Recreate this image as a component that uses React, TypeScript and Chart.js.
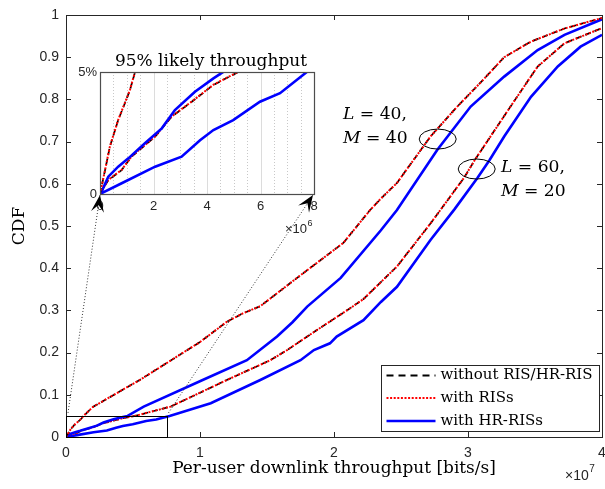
import React, { useEffect, useRef } from "react";
import { Chart, registerables } from "chart.js";

Chart.register(...registerables);

// ---------------- ticks & labels ----------------
// throughput stored in Mbit/s; main axis shows ×10^7 bits/s, inset shows ×10^6 bits/s
const mainXTicks = [0, 10, 20, 30, 40];
const mainXTickLabels = ["0", "1", "2", "3", "4"];
const mainYTicks = [0, 0.1, 0.2, 0.3, 0.4, 0.5, 0.6, 0.7, 0.8, 0.9, 1];
const mainYTickLabels = ["0", "0.1", "0.2", "0.3", "0.4", "0.5", "0.6", "0.7", "0.8", "0.9", "1"];
const insetXTicks = [0, 2, 4, 6, 8];
const insetXTickLabels = ["0", "2", "4", "6", "8"];
const insetYTicks = [0, 0.05];
const insetYTickLabels = ["0", "5%"];
const insetMajorGrid = [2, 4, 6];
const insetMinorGrid = [0.5, 1, 1.5, 2.5, 3, 3.5, 4.5, 5, 5.5, 6.5, 7, 7.5];
const insetRangeX = [0, 8];
const insetRangeY = [0, 0.05];
const zoomBoxX = [0, 7.5];
const zoomBoxY = [0, 0.05];

const xTitle = "Per-user downlink throughput [bits/s]";
const yTitle = "CDF";
const insetTitle = "95% likely throughput";
const legendLabels = ["without RIS/HR-RIS", "with RISs", "with HR-RISs"];
const groupLabels = [
  ["L", " = 40,", "M", " = 40"],
  ["L", " = 60,", "M", " = 20"],
];
// ellipse centres in data units (Mbit/s, CDF)
const ellipseX = [27.74, 30.65];
const ellipseY = [0.706, 0.635];

// ---------------- data (Mbit/s, CDF) ----------------
// L = 40, M = 40
const l40NoRisX = [0, 0.19, 0.37, 0.68, 0.93, 1.12, 1.31, 2.0, 3.3, 4.56, 5.5, 7.8, 10.0, 12.0, 13.2, 14.5, 17.2, 20.7, 22.7, 23.5, 24.7, 27.2, 29.2, 31.0, 32.7, 34.7, 37.2, 40.0];
const l40NoRisY = [0, 0.0098, 0.0194, 0.0303, 0.0372, 0.0426, 0.05, 0.071, 0.095, 0.118, 0.135, 0.181, 0.225, 0.273, 0.293, 0.31, 0.376, 0.46, 0.538, 0.565, 0.602, 0.712, 0.783, 0.842, 0.9, 0.937, 0.968, 0.993];
const l40RisX = [0, 0.19, 0.37, 0.68, 0.93, 1.12, 1.31, 2.0, 3.3, 4.56, 5.5, 7.8, 10.0, 12.0, 13.2, 14.5, 17.2, 20.7, 22.7, 23.5, 24.7, 27.2, 29.2, 31.0, 32.7, 34.7, 37.2, 40.0];
const l40RisY = [0, 0.0099, 0.0195, 0.0304, 0.0373, 0.0427, 0.0501, 0.071, 0.095, 0.118, 0.135, 0.181, 0.225, 0.273, 0.293, 0.31, 0.376, 0.46, 0.538, 0.565, 0.602, 0.712, 0.783, 0.842, 0.9, 0.937, 0.968, 0.993];
const l40HrX = [0, 0.06, 0.31, 0.68, 1.06, 1.68, 2.31, 2.8, 3.55, 4.24, 4.6, 5.8, 10.2, 13.5, 15.75, 16.9, 18.0, 20.5, 23.5, 24.7, 27.7, 30.2, 32.7, 35.2, 37.2, 40.0];
const l40HrY = [0, 0.001, 0.0071, 0.0112, 0.0146, 0.0208, 0.0269, 0.0344, 0.0419, 0.0474, 0.05, 0.072, 0.135, 0.182, 0.238, 0.272, 0.309, 0.377, 0.49, 0.538, 0.68, 0.783, 0.854, 0.917, 0.953, 0.99];
// L = 60, M = 20
const l60NoRisX = [0, 0.31, 0.81, 1.18, 2.06, 2.68, 3.43, 4.24, 5.17, 7.8, 12.0, 15.25, 16.5, 18.75, 21.2, 22.2, 24.7, 27.2, 29.7, 30.5, 33.0, 35.2, 37.2, 40.0];
const l60NoRisY = [0, 0.0057, 0.0098, 0.0153, 0.0235, 0.0317, 0.0378, 0.0447, 0.05, 0.072, 0.135, 0.182, 0.206, 0.254, 0.305, 0.327, 0.404, 0.506, 0.614, 0.656, 0.775, 0.878, 0.933, 0.969];
const l60RisX = [0, 0.31, 0.81, 1.18, 2.06, 2.68, 3.43, 4.24, 5.17, 7.8, 12.0, 15.25, 16.5, 18.75, 21.2, 22.2, 24.7, 27.2, 29.7, 30.5, 33.0, 35.2, 37.2, 40.0];
const l60RisY = [0, 0.0058, 0.0099, 0.0154, 0.0236, 0.0318, 0.0379, 0.0448, 0.0501, 0.072, 0.135, 0.182, 0.206, 0.254, 0.305, 0.327, 0.404, 0.506, 0.614, 0.656, 0.775, 0.878, 0.933, 0.969];
const l60HrX = [0, 0.81, 2.06, 3.05, 3.74, 4.24, 4.98, 5.98, 6.73, 7.73, 10.8, 14.5, 17.5, 18.5, 19.7, 20.2, 22.2, 23.5, 24.7, 27.2, 29.0, 30.7, 31.6, 32.7, 34.7, 36.7, 38.4, 40.0];
const l60HrY = [0, 0.0044, 0.0112, 0.0153, 0.022, 0.0262, 0.0303, 0.0378, 0.0413, 0.05, 0.08, 0.135, 0.182, 0.206, 0.222, 0.238, 0.277, 0.32, 0.356, 0.467, 0.54, 0.614, 0.656, 0.712, 0.806, 0.878, 0.925, 0.953];

// ---------------- styles ----------------
const TICK_FONT = "'Liberation Sans', Arial, sans-serif";
const SERIF = "'DejaVu Serif', serif";
const AX = "#262626";
const BLACK = "#000000";
const RED = "#ff0000";
const BLUE = "#0000ff";

const pts = (xs: number[], ys: number[]) => xs.map((x, i) => ({ x, y: ys[i] }));

function makeDatasets() {
  const red = { borderColor: RED, borderWidth: 2, borderDash: [2, 1.6] };
  const blk = { borderColor: BLACK, borderWidth: 1.7, borderDash: [6, 4] };
  const blu = { borderColor: BLUE, borderWidth: 2.6, borderDash: [] as number[] };
  const base = { pointRadius: 0, tension: 0, fill: false, borderCapStyle: "butt" as const };
  return [
    { ...base, ...red, data: pts(l40RisX, l40RisY) },
    { ...base, ...blk, data: pts(l40NoRisX, l40NoRisY) },
    { ...base, ...blu, data: pts(l40HrX, l40HrY) },
    { ...base, ...red, data: pts(l60RisX, l60RisY) },
    { ...base, ...blk, data: pts(l60NoRisX, l60NoRisY) },
    { ...base, ...blu, data: pts(l60HrX, l60HrY) },
  ];
}

function fitSize(ctx: CanvasRenderingContext2D, text: string, family: string, style: string, width: number) {
  ctx.font = `${style} 100px ${family}`;
  return (100 * width) / ctx.measureText(text).width;
}

function arrowHead(ctx: CanvasRenderingContext2D, tx: number, ty: number, fx: number, fy: number) {
  const dx = tx - fx, dy = ty - fy;
  const len = Math.hypot(dx, dy);
  const ux = dx / len, uy = dy / len;
  const nx = -uy, ny = ux;
  const L = 17, W = 6.5, N = 10;
  ctx.beginPath();
  ctx.moveTo(tx, ty);
  ctx.lineTo(tx - ux * L + nx * W, ty - uy * L + ny * W);
  ctx.lineTo(tx - ux * N, ty - uy * N);
  ctx.lineTo(tx - ux * L - nx * W, ty - uy * L - ny * W);
  ctx.closePath();
  ctx.fill();
}

function drawExponent(ctx: CanvasRenderingContext2D, exp: string, x0: number, base: number, size: number) {
  ctx.fillStyle = AX;
  ctx.textAlign = "left";
  ctx.textBaseline = "alphabetic";
  ctx.font = `${size}px ${TICK_FONT}`;
  ctx.fillText("\u00d710", x0, base);
  const ew = ctx.measureText("\u00d710").width;
  ctx.font = `${Math.round(size * 0.72)}px ${TICK_FONT}`;
  ctx.fillText(exp, x0 + ew + 0.5, base - size * 0.55);
}

const mainPlugin = {
  id: "mainDecor",
  afterDraw(chart: any) {
    const { ctx, chartArea: ca, scales } = chart;
    const x = scales.x, y = scales.y;
    ctx.save();
    // axes box
    ctx.strokeStyle = AX;
    ctx.lineWidth = 1;
    ctx.strokeRect(Math.round(ca.left) + 0.5, Math.round(ca.top) + 0.5, Math.round(ca.right - ca.left), Math.round(ca.bottom - ca.top));
    // inward ticks
    ctx.beginPath();
    mainXTicks.forEach((v) => {
      const px = Math.round(x.getPixelForValue(v)) + 0.5;
      ctx.moveTo(px, ca.bottom); ctx.lineTo(px, ca.bottom - 5);
      ctx.moveTo(px, ca.top); ctx.lineTo(px, ca.top + 5);
    });
    mainYTicks.forEach((v) => {
      const py = Math.round(y.getPixelForValue(v)) + 0.5;
      ctx.moveTo(ca.left, py); ctx.lineTo(ca.left + 5, py);
      ctx.moveTo(ca.right, py); ctx.lineTo(ca.right - 5, py);
    });
    ctx.stroke();

    // zoom rectangle
    ctx.strokeStyle = "#000";
    const rx0 = x.getPixelForValue(zoomBoxX[0]), rx1 = x.getPixelForValue(zoomBoxX[1]);
    const ry0 = y.getPixelForValue(zoomBoxY[0]), ry1 = y.getPixelForValue(zoomBoxY[1]);
    ctx.strokeRect(Math.round(rx0) + 0.5, Math.round(ry1) + 0.5, Math.round(rx1 - rx0), Math.round(ry0 - ry1));

    // ellipses
    ellipseX.forEach((ex, i) => {
      ctx.beginPath();
      ctx.ellipse(x.getPixelForValue(ex), y.getPixelForValue(ellipseY[i]), 18.5, 10, 0, 0, Math.PI * 2);
      ctx.stroke();
    });

    // group annotations
    ctx.fillStyle = "#000";
    ctx.textBaseline = "alphabetic";
    ctx.textAlign = "left";
    const annSize = fitSize(ctx, "L = 40,", SERIF, "", 64);
    const drawMath = (parts: string[], px: number, py: number) => {
      ctx.font = `italic ${annSize}px ${SERIF}`;
      ctx.fillText(parts[0], px, py);
      const w = ctx.measureText(parts[0]).width;
      ctx.font = `${annSize}px ${SERIF}`;
      ctx.fillText(parts[1], px + w, py);
    };
    drawMath([groupLabels[0][0], groupLabels[0][1]], 343, 119);
    drawMath([groupLabels[0][2], groupLabels[0][3]], 343, 143);
    drawMath([groupLabels[1][0], groupLabels[1][1]], 501, 172);
    drawMath([groupLabels[1][2], groupLabels[1][3]], 501, 196);

    // legend
    const lw = 218, lh = 66;
    const lx = Math.round(ca.right - 221) + 0.5, ly = Math.round(ca.bottom - 72) + 0.5;
    ctx.fillStyle = "#fff";
    ctx.fillRect(lx, ly, lw, lh);
    ctx.strokeStyle = AX;
    ctx.lineWidth = 1;
    ctx.setLineDash([]);
    ctx.strokeRect(lx, ly, lw, lh);
    const legSize = fitSize(ctx, legendLabels[0], SERIF, "", 152);
    const rows = [10, 32.5, 55.5];
    const styles = [
      { c: BLACK, w: 2.2, d: [7, 5] },
      { c: RED, w: 2, d: [2, 1.6] },
      { c: BLUE, w: 2.6, d: [] as number[] },
    ];
    rows.forEach((r, i) => {
      const yy = ly + r;
      ctx.beginPath();
      ctx.strokeStyle = styles[i].c;
      ctx.lineWidth = styles[i].w;
      ctx.setLineDash(styles[i].d);
      ctx.moveTo(lx + 5, yy);
      ctx.lineTo(lx + 54, yy);
      ctx.stroke();
      ctx.setLineDash([]);
      ctx.fillStyle = "#000";
      ctx.font = `${legSize}px ${SERIF}`;
      ctx.textBaseline = "middle";
      ctx.fillText(legendLabels[i], lx + 59, yy);
    });

    // axis titles
    ctx.fillStyle = "#000";
    ctx.textAlign = "center";
    ctx.textBaseline = "alphabetic";
    const xs = fitSize(ctx, xTitle, SERIF, "", 324);
    ctx.font = `${xs}px ${SERIF}`;
    ctx.fillText(xTitle, (ca.left + ca.right) / 2, 473);
    ctx.save();
    ctx.translate(24, (ca.top + ca.bottom) / 2);
    ctx.rotate(-Math.PI / 2);
    ctx.font = `17px ${SERIF}`;
    ctx.fillText(yTitle, 0, 0);
    ctx.restore();

    drawExponent(ctx, "7", 565, 480, 14);
    ctx.restore();
  },
};

function makeInsetPlugin(main: any) {
  return {
    id: "insetDecor",
    beforeDraw(chart: any) {
      const { ctx, chartArea: ca } = chart;
      ctx.save();
      ctx.fillStyle = "#fff";
      ctx.fillRect(ca.left, ca.top, ca.right - ca.left, ca.bottom - ca.top);
      ctx.restore();
    },
    beforeDatasetsDraw(chart: any) {
      const { ctx, chartArea: ca, scales } = chart;
      const x = scales.x;
      ctx.save();
      ctx.lineWidth = 1;
      ctx.strokeStyle = "#c8c8c8";
      ctx.setLineDash([1, 2]);
      ctx.beginPath();
      insetMinorGrid.forEach((v) => {
        const px = Math.round(x.getPixelForValue(v)) + 0.5;
        ctx.moveTo(px, ca.top); ctx.lineTo(px, ca.bottom);
      });
      ctx.stroke();
      ctx.setLineDash([]);
      ctx.strokeStyle = "#dcdcdc";
      ctx.beginPath();
      insetMajorGrid.forEach((v) => {
        const px = Math.round(x.getPixelForValue(v)) + 0.5;
        ctx.moveTo(px, ca.top); ctx.lineTo(px, ca.bottom);
      });
      ctx.stroke();
      ctx.restore();
    },
    afterDraw(chart: any) {
      const { ctx, chartArea: ca } = chart;
      ctx.save();
      // box
      ctx.strokeStyle = "#4d4d4d";
      ctx.lineWidth = 1.2;
      ctx.strokeRect(Math.round(ca.left) + 0.5, Math.round(ca.top) + 0.5, Math.round(ca.right - ca.left), Math.round(ca.bottom - ca.top));
      // title
      ctx.fillStyle = "#000";
      ctx.textAlign = "center";
      ctx.textBaseline = "alphabetic";
      const ts = fitSize(ctx, insetTitle, SERIF, "", 192);
      ctx.font = `${ts}px ${SERIF}`;
      ctx.fillText(insetTitle, (ca.left + ca.right) / 2 + 4, 66);
      // connectors from the main zoom box to the inset corners
      const mx = main.scales.x, my = main.scales.y;
      const starts = [
        [mx.getPixelForValue(zoomBoxX[0]) + 2, my.getPixelForValue(zoomBoxY[1]) - 3],
        [mx.getPixelForValue(zoomBoxX[1]) + 2, my.getPixelForValue(zoomBoxY[1]) - 3],
      ];
      const ends = [
        [ca.left, ca.bottom + 1],
        [ca.right - 1, ca.bottom + 1],
      ];
      ctx.strokeStyle = "#333";
      ctx.lineWidth = 1;
      ctx.setLineDash([1, 2]);
      starts.forEach((s, i) => {
        ctx.beginPath();
        ctx.moveTo(s[0], s[1]);
        ctx.lineTo(ends[i][0], ends[i][1]);
        ctx.stroke();
      });
      ctx.setLineDash([]);
      drawExponent(ctx, "6", 285, 233, 13);
      // arrow heads
      ctx.fillStyle = "#000";
      starts.forEach((s, i) => arrowHead(ctx, ends[i][0], ends[i][1], s[0], s[1]));
      ctx.restore();
    },
  };
}

export default function App() {
  const mainRef = useRef<HTMLCanvasElement>(null);
  const insetRef = useRef<HTMLCanvasElement>(null);

  useEffect(() => {
    document.body.style.margin = "0";
    const main = new Chart(mainRef.current as HTMLCanvasElement, {
      type: "line",
      data: { datasets: makeDatasets() as any },
      options: {
        animation: false,
        responsive: false,
        devicePixelRatio: 1,
        parsing: false,
        layout: { padding: { top: 15, right: 3, bottom: 0, left: 0 } },
        plugins: { legend: { display: false }, tooltip: { enabled: false } },
        scales: {
          x: {
            type: "linear",
            min: 0,
            max: 40,
            afterBuildTicks: (s: any) => { s.ticks = mainXTicks.map((v) => ({ value: v })); },
            ticks: { callback: (_v: any, i: number) => mainXTickLabels[i], font: { family: TICK_FONT, size: 14 }, color: AX, padding: 8, maxRotation: 0, autoSkip: false },
            grid: { display: false, drawTicks: false },
            border: { display: false },
            afterFit: (s: any) => { s.height = 52; s.paddingLeft = 0; s.paddingRight = 0; },
          },
          y: {
            type: "linear",
            min: 0,
            max: 1,
            afterBuildTicks: (s: any) => { s.ticks = mainYTicks.map((v) => ({ value: v })); },
            ticks: { callback: (_v: any, i: number) => mainYTickLabels[i], font: { family: TICK_FONT, size: 14 }, color: AX, padding: 7, autoSkip: false },
            grid: { display: false, drawTicks: false },
            border: { display: false },
            afterFit: (s: any) => { s.width = 66; s.paddingTop = 0; s.paddingBottom = 0; },
          },
        },
      } as any,
      plugins: [mainPlugin],
    });

    const inset = new Chart(insetRef.current as HTMLCanvasElement, {
      type: "line",
      data: { datasets: makeDatasets() as any },
      options: {
        animation: false,
        responsive: false,
        devicePixelRatio: 1,
        parsing: false,
        layout: { padding: { top: 72, right: 291, bottom: 275, left: 70 } },
        plugins: { legend: { display: false }, tooltip: { enabled: false } },
        scales: {
          x: {
            type: "linear",
            min: insetRangeX[0],
            max: insetRangeX[1],
            afterBuildTicks: (s: any) => { s.ticks = insetXTicks.map((v) => ({ value: v })); },
            ticks: { callback: (_v: any, i: number) => insetXTickLabels[i], font: { family: TICK_FONT, size: 13 }, color: AX, padding: 5, maxRotation: 0, autoSkip: false },
            grid: { display: false, drawTicks: false },
            border: { display: false },
            afterFit: (s: any) => { s.height = 20; s.paddingLeft = 0; s.paddingRight = 0; },
          },
          y: {
            type: "linear",
            min: insetRangeY[0],
            max: insetRangeY[1],
            afterBuildTicks: (s: any) => { s.ticks = insetYTicks.map((v) => ({ value: v })); },
            ticks: { callback: (_v: any, i: number) => insetYTickLabels[i], font: { family: TICK_FONT, size: 13 }, color: AX, padding: 3, autoSkip: false },
            grid: { display: false, drawTicks: false },
            border: { display: false },
            afterFit: (s: any) => { s.width = 30; s.paddingTop = 0; s.paddingBottom = 0; },
          },
        },
      } as any,
      plugins: [makeInsetPlugin(main)],
    });

    return () => {
      inset.destroy();
      main.destroy();
    };
  }, []);

  return (
    <div style={{ position: "fixed", left: 0, top: 0, width: 605, height: 489, background: "#fff" }}>
      <canvas ref={mainRef} width={605} height={489} style={{ position: "absolute", left: 0, top: 0 }} />
      <canvas ref={insetRef} width={605} height={489} style={{ position: "absolute", left: 0, top: 0, pointerEvents: "none" }} />
    </div>
  );
}
